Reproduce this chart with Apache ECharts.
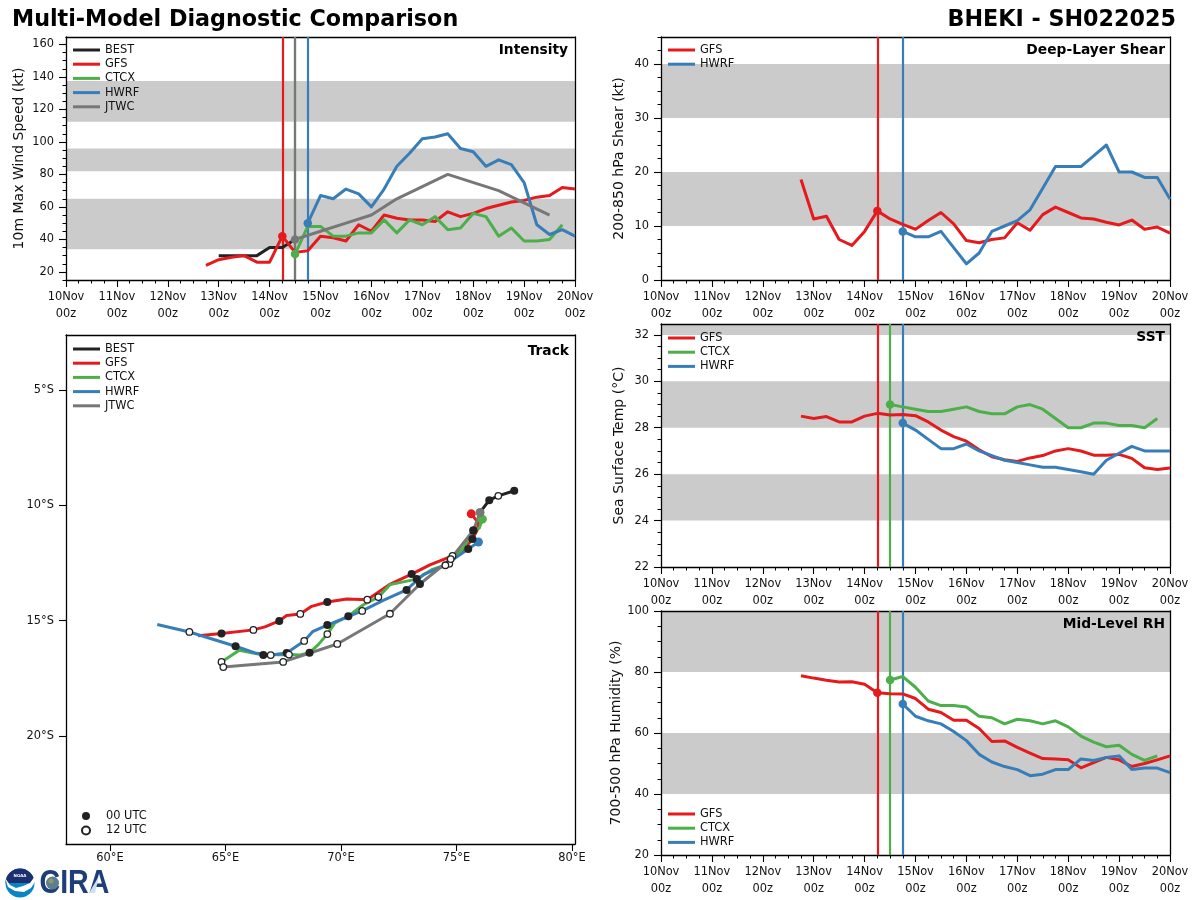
<!DOCTYPE html>
<html><head><meta charset="utf-8">
<style>html,body{margin:0;padding:0;background:#fff}#c{width:1200px;height:900px}</style>
<script src="https://cdn.jsdelivr.net/npm/echarts@6/dist/echarts.min.js"></script>
</head><body><div id="c"></div>
<script>
// ---- time axis (days since 10 Nov 00z) ----
const dayLabels = ['10Nov','11Nov','12Nov','13Nov','14Nov','15Nov','16Nov','17Nov','18Nov','19Nov','20Nov'];
const stepDays = 0.25;
const gfsStart = 2.75, ctcxStart = 4.5, hwrfStart = 4.75, bestStart = 3.0;

// ---- intensity (kt) ----
const intensityBest = [30,30,30,30,35,35,40];
const intensityGfs  = [24,27.5,29,30,26,26,42,32,33,42,41,39,49,45,55,53,52,52,51,57,54,56,59,61,63,64,66,67,72,71];
const intensityCtcx = [31,48,48,42,42,44,44,52,44,52,49,54,46,47,56,54,42,47,39,39,40,49];
const intensityHwrf = [50,67,65,71,68,60,71,85,93,102,103,105,96,94,85,89,86,75,49,43,46,42];
const jtwcTimes     = [4.5,5,5.5,6,6.5,7.5,8.5,9.5];
const intensityJtwc = [40,45,50,55,65,80,70,55];
const intensityBands = [[34,65],[82,96],[112.5,137.5]];
const intensityTicks = [20,40,60,80,100,120,140,160];

// ---- shear (kt) ----
const shearGfs  = [18.6,11.3,11.8,7.5,6.4,9,12.8,11.3,10.3,9.4,11,12.5,10.4,7.3,6.9,7.5,7.8,10.6,9.2,12.1,13.5,12.5,11.5,11.3,10.7,10.2,11.1,9.4,9.8,8.7];
const shearHwrf = [9,8,8,9,6,3,5,9,10,11,13,17,21,21,21,23,25,20,20,19,19,15];
const shearBands = [[10,20],[30,40]];
const shearTicks = [0,10,20,30,40];

// ---- SST (deg C) ----
const sstGfs  = [28.5,28.4,28.48,28.25,28.25,28.5,28.62,28.55,28.57,28.52,28.25,27.9,27.62,27.42,27.05,26.75,26.62,26.55,26.7,26.8,27,27.1,27,26.82,26.82,26.85,26.68,26.28,26.2,26.27];
const sstCtcx = [29,28.9,28.8,28.7,28.7,28.8,28.9,28.7,28.6,28.6,28.9,29,28.8,28.4,28,28,28.2,28.2,28.1,28.1,28,28.4];
const sstHwrf = [28.2,27.9,27.5,27.1,27.1,27.3,27,26.8,26.6,26.5,26.4,26.3,26.3,26.2,26.1,26,26.6,26.9,27.2,27,27,27];
const sstBands = [[24,26],[28,30],[32,32.47]];
const sstTicks = [22,24,26,28,30,32];

// ---- mid-level RH (%) ----
const rhGfs  = [78.8,78,77.3,76.7,76.8,76,73.2,72.9,72.8,71.3,67.8,66.7,64.2,64.2,61.5,57.2,57.4,55.3,53.4,51.6,51.5,51.2,48.6,50.3,52,51.2,49,50,51.2,52.5];
const rhCtcx = [77.4,78.5,75,70.5,69,69,68.5,65.5,65,63,64.5,64,63,64,62,59,57,55.5,56,53,51,52.5];
const rhHwrf = [69.5,65.5,64,63,60.5,57.5,53,50.5,49,48,46,46.5,48,48,51.5,51,52,52.5,48,48.5,48.5,47];
const rhBands = [[40,60],[80,100]];
const rhTicks = [20,40,60,80,100];

// ---- tracks: [lon E, lat (south negative), synoptic hour or null] ----
const trackBest = [[77.5,-9.37,0],[76.81,-9.59,12],[76.42,-9.78,0],[76.02,-10.31,null]];
const trackGfs = [[75.64,-10.37,null],[75.95,-10.77,null],[75.9,-11.06,null],[75.69,-11.46,0],[75.3,-11.93,null],[74.83,-12.19,12],[73.85,-12.58,null],[73.06,-12.98,0],[72.09,-13.44,null],[71.14,-14.09,12],[70.25,-14.06,null],[69.41,-14.19,0],[68.73,-14.38,null],[68.24,-14.71,12],[67.65,-14.78,null],[67.33,-15.01,0],[66.71,-15.27,null],[66.21,-15.4,12],[64.83,-15.56,0],[63.82,-15.65,null]];
const trackCtcx = [[76.12,-10.6,null],[75.99,-10.99,null],[75.73,-11.09,0],[75.3,-11.85,null],[74.69,-12.53,12],[73.93,-12.79,null],[73.28,-13.2,0],[72.12,-13.44,null],[71.62,-13.98,12],[70.97,-14.31,null],[70.32,-14.81,0],[69.74,-15.1,null],[69.41,-15.58,12],[69.02,-16.04,null],[68.64,-16.39,0],[68.23,-16.49,null],[67.75,-16.47,12],[66.64,-16.49,0],[65.6,-16.28,null],[64.83,-16.79,12]];
const trackHwrf = [[75.95,-11.59,null],[75.51,-11.9,0],[74.94,-12.29,null],[74.52,-12.6,12],[73.56,-13.01,null],[72.84,-13.67,0],[71.83,-14.12,null],[70.92,-14.58,12],[70.1,-14.91,null],[69.41,-15.19,0],[68.77,-15.48,null],[68.41,-15.88,12],[67.65,-16.4,0],[66.96,-16.49,12],[66.28,-16.4,null],[65.44,-16.11,0],[63.44,-15.49,12],[62.05,-15.17,null]];
const trackJtwc = [[76.02,-10.31,null],[75.73,-11.09,0],[74.75,-12.33,12],[73.42,-13.41,0],[72.12,-14.7,12],[69.84,-16.01,12],[67.5,-16.79,12],[64.91,-17.01,12]];
const lonTicks = [60,65,70,75,80];
const latTicks = [-5,-10,-15,-20];

// ---- styles ----
const COL = {BEST:'#222222',GFS:'#e41a1c',CTCX:'#4daf4a',HWRF:'#377eb8',JTWC:'#777777'};
const FONT = '"DejaVu Sans"';
const BAND = '#cbcbcb';
const TXT = 11.4;
const grids=[], xAxes=[], yAxes=[], series=[], legends=[];
const titles=[
 {text:'Multi-Model Diagnostic Comparison',left:12,top:9,padding:0,textStyle:{fontFamily:FONT,fontWeight:'bold',fontSize:22.25,color:'#000'}},
 {text:'BHEKI - SH022025',right:24,top:9,padding:0,textStyle:{fontFamily:FONT,fontWeight:'bold',fontSize:22.25,color:'#000'}}
];
function addGrid(box, xmin, xmax, ymin, ymax, yTicks, yStep, yName, xCfg){
  const g=grids.length;
  grids.push({left:box.l,top:box.t,width:box.w,height:box.h,containLabel:false});
  const bare={show:false};
  xAxes.push(Object.assign({type:'value',gridIndex:g,min:xmin,max:xmax,position:'bottom',z:3,splitLine:bare,
    axisLine:{onZero:false,lineStyle:{color:'#000',width:1.3}}},xCfg));
  xAxes.push({type:'value',gridIndex:g,min:xmin,max:xmax,position:'top',z:3,splitLine:bare,axisTick:bare,axisLabel:bare,
    axisLine:{show:true,onZero:false,lineStyle:{color:'#000',width:1.3}}});
  const minorVals=[];
  if(yStep){for(let v=Math.ceil(ymin/yStep)*yStep;v<=ymax;v+=yStep) minorVals.push(v);}
  yAxes.push({type:'value',gridIndex:g,min:ymin,max:ymax,position:'left',z:3,splitLine:bare,
    name:yName||'',nameLocation:'middle',nameGap:box.nameGap||40,nameTextStyle:{fontFamily:FONT,fontSize:14,color:'#111'},
    axisLine:{onZero:false,lineStyle:{color:'#000',width:1.3}},
    axisTick:{show:true,length:7,customValues:yTicks,lineStyle:{color:'#000',width:1.1}},
    axisLabel:{show:true,customValues:yTicks,margin:12,padding:[0,0,1,0],fontFamily:FONT,fontSize:TXT,color:'#111',formatter:box.yFmt||(v=>String(v))}});
  yAxes.push({type:'value',gridIndex:g,min:ymin,max:ymax,position:'left',z:3,splitLine:bare,axisLabel:bare,
    axisLine:{show:false,onZero:false},
    axisTick:{show:yStep?true:false,length:3.5,customValues:minorVals,lineStyle:{color:'#000',width:1}}});
  yAxes.push({type:'value',gridIndex:g,min:ymin,max:ymax,position:'right',z:3,splitLine:bare,axisLabel:bare,axisTick:bare,
    axisLine:{show:true,onZero:false,lineStyle:{color:'#000',width:1.3}}});
  return g;
}
const dayAxis={interval:1,
  axisTick:{show:true,length:7,lineStyle:{color:'#000',width:1.1}},
  minorTick:{show:true,splitNumber:4,length:3.5,lineStyle:{color:'#000',width:1}},
  axisLabel:{show:true,margin:9,lineHeight:17,fontFamily:FONT,fontSize:TXT,color:'#111',hideOverlap:false,showMinLabel:true,showMaxLabel:true,
    formatter:v=>dayLabels[v]+'\n00z'}};
function bandSeries(g,bands){
  series.push({type:'line',xAxisIndex:g*2,yAxisIndex:g*3,data:[],silent:true,z:1,
    markArea:{silent:true,z:1,itemStyle:{color:BAND,opacity:1},label:{show:false},
      data:bands.map(b=>[{yAxis:b[0]},{yAxis:b[1]}])}});
}
function pairs(start,vals){return vals.map((v,i)=>[start+i*stepDays,v]);}
function modelLine(g,name,data,vLine,showDot){
  const s={type:'line',name,xAxisIndex:g*2,yAxisIndex:g*3,data,showSymbol:false,symbol:'none',z:5,
    lineStyle:{color:COL[name],width:3,join:'round'},itemStyle:{color:COL[name]},silent:true};
  if(vLine!==undefined) s.markLine={silent:true,symbol:'none',z:4,label:{show:false},animation:false,
    lineStyle:{color:COL[name],width:2.2,type:'solid'},data:[{xAxis:vLine}]};
  series.push(s);
  if(vLine!==undefined && showDot!==false){
    const first=data.find(p=>p[0]===vLine);
    if(first) series.push({type:'scatter',xAxisIndex:g*2,yAxisIndex:g*3,data:[first],symbol:'circle',symbolSize:8.5,z:6,silent:true,itemStyle:{color:COL[name],opacity:1}});
  }
}
function panelTitle(text,right,top){titles.push({text,right,top,padding:0,textStyle:{fontFamily:FONT,fontWeight:'bold',fontSize:13.8,color:'#000'}});}
function panelLegend(names,left,top){
  legends.push({orient:'vertical',left,top,data:names,icon:'rect',itemWidth:27,itemHeight:3,itemGap:2.2,padding:0,selectedMode:false,
    textStyle:{fontFamily:FONT,fontSize:TXT,color:'#111',padding:[0,0,0,0],height:12,lineHeight:12}});
}
const LEFT={l:66,w:509}, RIGHT={l:661,w:509};

// Intensity
let g=addGrid({l:LEFT.l,w:LEFT.w,t:37,h:243,nameGap:40},0,10,15,164.6,intensityTicks,5,'10m Max Wind Speed (kt)',dayAxis);
bandSeries(g,intensityBands);
modelLine(g,'BEST',pairs(bestStart,intensityBest));
modelLine(g,'GFS',pairs(gfsStart,intensityGfs),4.25);
modelLine(g,'CTCX',pairs(ctcxStart,intensityCtcx),4.5);
modelLine(g,'HWRF',pairs(hwrfStart,intensityHwrf),4.75);
modelLine(g,'JTWC',jtwcTimes.map((t,i)=>[t,intensityJtwc[i]]),4.5);
panelTitle('Intensity',1200-568,43);
panelLegend(['BEST','GFS','CTCX','HWRF','JTWC'],73,44);

// Shear
g=addGrid({l:RIGHT.l,w:RIGHT.w,t:37,h:243,nameGap:35},0,10,0,45,shearTicks,2.5,'200-850 hPa Shear (kt)',dayAxis);
bandSeries(g,shearBands);
modelLine(g,'GFS',pairs(gfsStart,shearGfs),4.25);
modelLine(g,'HWRF',pairs(hwrfStart,shearHwrf),4.75);
panelTitle('Deep-Layer Shear',35,43);
panelLegend(['GFS','HWRF'],668,44);

// Track
g=addGrid({l:LEFT.l,w:LEFT.w,t:335,h:509,yFmt:v=>Math.abs(v)+'°S'},58.1,80.13,-24.68,-2.62,latTicks,0,'',
 {axisTick:{show:true,length:7,customValues:lonTicks,lineStyle:{color:'#000',width:1.1}},
  axisLabel:{show:true,margin:9,customValues:lonTicks,fontFamily:FONT,fontSize:TXT,color:'#111',formatter:v=>v+'°E'}});
function trackLine(name,tr){
  series.push({type:'line',name,xAxisIndex:g*2,yAxisIndex:g*3,data:tr.map(p=>[p[0],p[1]]),showSymbol:false,symbol:'none',z:5,silent:true,
    lineStyle:{color:COL[name],width:3,join:'round'},itemStyle:{color:COL[name]}});
}
const allTracks=[['BEST',trackBest],['GFS',trackGfs],['CTCX',trackCtcx],['HWRF',trackHwrf],['JTWC',trackJtwc]];
allTracks.forEach(t=>trackLine(t[0],t[1]));
allTracks.slice(1).forEach(t=>series.push({type:'scatter',xAxisIndex:g*2,yAxisIndex:g*3,data:[[t[1][0][0],t[1][0][1]]],symbol:'circle',symbolSize:9,z:7,silent:true,itemStyle:{color:COL[t[0]],opacity:1}}));
const pick=h=>allTracks.flatMap(t=>t[1].filter(p=>p[2]===h).map(p=>[p[0],p[1]]));
series.push({type:'scatter',name:'00 UTC',xAxisIndex:g*2,yAxisIndex:g*3,data:pick(0),symbol:'circle',symbolSize:8,z:8,silent:true,itemStyle:{color:'#222',opacity:1}});
series.push({type:'scatter',name:'12 UTC',xAxisIndex:g*2,yAxisIndex:g*3,data:pick(12),symbol:'circle',symbolSize:6.5,z:8,silent:true,itemStyle:{color:'#fff',borderColor:'#222',borderWidth:1.3,opacity:1}});
panelTitle('Track',1200-569,344);
panelLegend(['BEST','GFS','CTCX','HWRF','JTWC'],73,343);
legends.push({orient:'vertical',left:81,top:810,data:['00 UTC','12 UTC'],icon:'circle',itemWidth:8,itemHeight:8,itemGap:2.5,padding:0,selectedMode:false,
  textStyle:{fontFamily:FONT,fontSize:TXT,color:'#111',padding:[0,0,0,11],height:12,lineHeight:12}});

// SST
g=addGrid({l:RIGHT.l,w:RIGHT.w,t:324,h:243,nameGap:35},0,10,22,32.47,sstTicks,0.5,'Sea Surface Temp (°C)',dayAxis);
bandSeries(g,sstBands);
modelLine(g,'GFS',pairs(gfsStart,sstGfs),4.25,false);
modelLine(g,'CTCX',pairs(ctcxStart,sstCtcx),4.5);
modelLine(g,'HWRF',pairs(hwrfStart,sstHwrf),4.75);
panelTitle('SST',35,330);
panelLegend(['GFS','CTCX','HWRF'],668,332);

// RH
g=addGrid({l:RIGHT.l,w:RIGHT.w,t:611,h:244,nameGap:35},0,10,20,100,rhTicks,5,'700-500 hPa Humidity (%)',dayAxis);
bandSeries(g,rhBands);
modelLine(g,'GFS',pairs(gfsStart,rhGfs),4.25);
modelLine(g,'CTCX',pairs(ctcxStart,rhCtcx),4.5);
modelLine(g,'HWRF',pairs(hwrfStart,rhHwrf),4.75);
panelTitle('Mid-Level RH',35,617);
panelLegend(['GFS','CTCX','HWRF'],668,808);

// logo (NOAA disc + CIRA wordmark)
const logo=[
 {type:'circle',shape:{cx:20,cy:883,r:14.5},style:{fill:'#0b84c6'}},
 {type:'sector',shape:{cx:20,cy:883,r:14.5,r0:0,startAngle:Math.PI,endAngle:2*Math.PI},style:{fill:'#1c2f70'}},
 {type:'polygon',shape:{points:[[5,878],[10,885],[16,888],[23,886],[30,883],[35,876],[35,882],[31,888],[24,892],[15,891],[8,887]]},style:{fill:'#fff'}},
 {type:'text',style:{x:20,y:876,text:'NOAA',fill:'#fff',font:'bold 4px "DejaVu Sans"',align:'center',verticalAlign:'middle'}},
 {type:'text',x:39.5,y:884,scaleX:0.84,style:{x:0,y:0,text:'CIRA',fill:'#1f3d7a',font:'bold 34px "Liberation Sans"',align:'left',verticalAlign:'middle'}},
 {type:'circle',shape:{cx:52.5,cy:883,r:6.5},style:{fill:'#5d7f8c'}},
 {type:'circle',shape:{cx:51,cy:881,r:2.5},style:{fill:'#8b9a6b'}},
 {type:'polygon',shape:{points:[[89,893],[99,876],[95,893]]},style:{fill:'#cfe0ee'}}
];

const chart=echarts.init(document.getElementById('c'),null,{renderer:'canvas'});
chart.setOption({animation:false,backgroundColor:'#fff',title:titles,grid:grids,xAxis:xAxes,yAxis:yAxes,series,legend:legends,graphic:{elements:logo}});
</script></body></html>
